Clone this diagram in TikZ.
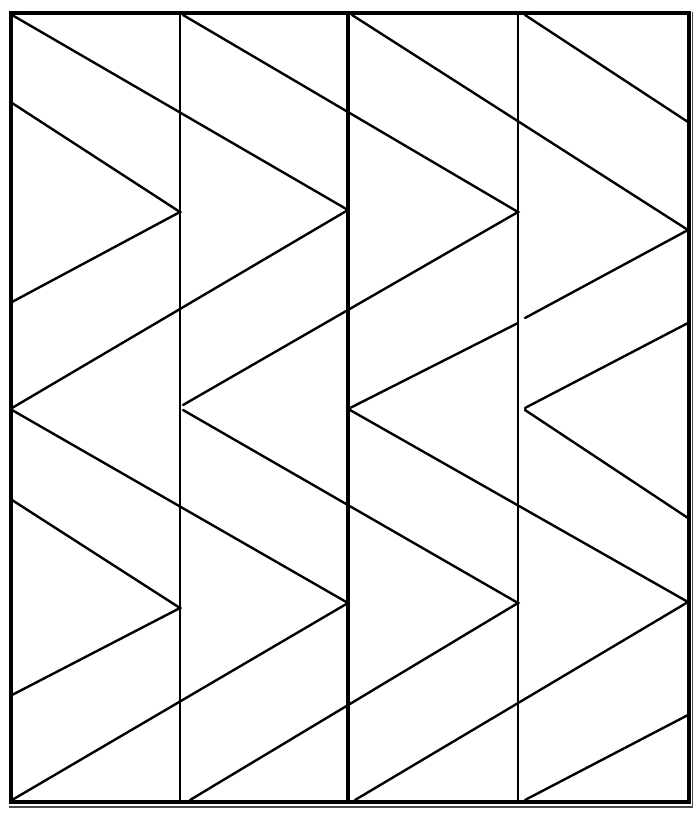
\documentclass[tikz,border=0pt]{standalone}
\begin{document}
\begin{tikzpicture}[x=1pt,y=-1pt,
  frame/.style={line width=3.6pt,line join=miter},
  divthin/.style={line width=2.2pt},
  divthick/.style={line width=3.4pt},
  diag/.style={line width=2.4pt,line cap=round},
  shadow/.style={line width=1.6pt,black!70}]
\useasboundingbox (0,0) rectangle (700,821);
% frame
\draw[shadow] (9,807) -- (692.5,807) -- (692.5,12);
\draw[frame] (11,13) rectangle (689,802);
% vertical dividers
\coordinate (v1t) at (180,13); \coordinate (v1b) at (180,802);
\coordinate (v2t) at (348,13); \coordinate (v2b) at (348,802);
\coordinate (v3t) at (518,13); \coordinate (v3b) at (518,802);
\draw[divthin] (v1t) -- (v1b);
\draw[divthick] (v2t) -- (v2b);
\draw[divthin] (v3t) -- (v3b);
% top half coordinates
\coordinate (a1) at (12,15);   \coordinate (a2) at (348,210);
\coordinate (a3) at (12,103);  \coordinate (a4) at (180,212);
\coordinate (a5) at (12,302);
\coordinate (a6) at (12,408);
\coordinate (a7) at (183,15);  \coordinate (a8) at (518,212);
\coordinate (a9) at (183,405);
\coordinate (a10) at (352,15); \coordinate (a11) at (688,230);
\coordinate (a12) at (525,318);
\coordinate (a13) at (518,323); \coordinate (a14) at (350,408);
\coordinate (a15) at (525,15); \coordinate (a16) at (688,122);
\coordinate (a17) at (688,323); \coordinate (a18) at (525,408);
% bottom half coordinates
\coordinate (b1) at (12,410);  \coordinate (b2) at (348,603);
\coordinate (b3) at (12,500);  \coordinate (b4) at (180,608);
\coordinate (b5) at (12,695);
\coordinate (b6) at (12,800);
\coordinate (b7) at (183,410); \coordinate (b8) at (518,603);
\coordinate (b9) at (190,800);
\coordinate (b10) at (350,410); \coordinate (b11) at (688,602);
\coordinate (b12) at (355,800);
\coordinate (b13) at (525,410); \coordinate (b14) at (688,518);
\coordinate (b15) at (688,715); \coordinate (b16) at (525,800);
% top half lines
\draw[diag] (a1) -- (a2);
\draw[diag] (a3) -- (a4) -- (a5);
\draw[diag] (a6) -- (a2);
\draw[diag] (a7) -- (a8) -- (a9);
\draw[diag] (a10) -- (a11) -- (a12);
\draw[diag] (a13) -- (a14);
\draw[diag] (a15) -- (a16);
\draw[diag] (a17) -- (a18);
% bottom half lines
\draw[diag] (b1) -- (b2);
\draw[diag] (b3) -- (b4) -- (b5);
\draw[diag] (b6) -- (b2);
\draw[diag] (b7) -- (b8) -- (b9);
\draw[diag] (b10) -- (b11) -- (b12);
\draw[diag] (b13) -- (b14);
\draw[diag] (b15) -- (b16);
\end{tikzpicture}
\end{document}
